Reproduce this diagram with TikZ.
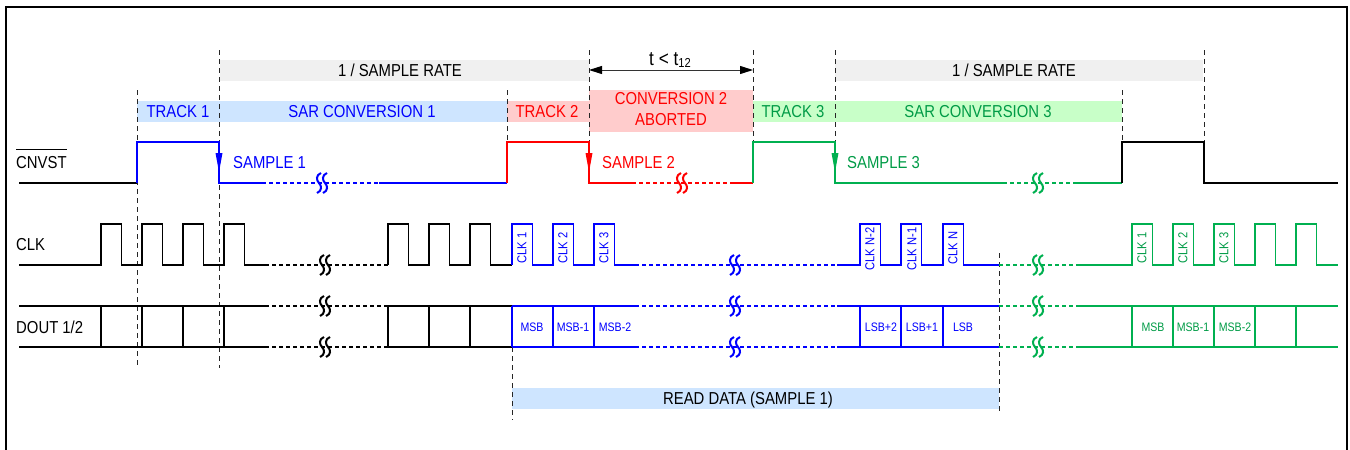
\documentclass[tikz,border=0pt]{standalone}
\usepackage{fontspec}
\setmainfont{Liberation Sans}[FakeStretch=0.86]
\usetikzlibrary{arrows.meta}
\definecolor{cblue}{RGB}{0,0,255}
\definecolor{cred}{RGB}{255,0,0}
\definecolor{cgreen}{RGB}{0,176,80}
\definecolor{tgreen}{RGB}{0,155,70}
\definecolor{fblue}{RGB}{206,229,255}
\definecolor{fred}{RGB}{255,204,204}
\definecolor{fgreen}{RGB}{200,255,200}
\definecolor{fgray}{RGB}{240,240,240}
\tikzset{
  brk/.pic={
    \draw[line width=2pt] (-1,-10) .. controls (-6,-8) and (-6,-3) .. (-3,0) .. controls (0,3) and (0,8) .. (-5,10);
    \draw[line width=2pt] (5,-10) .. controls (0,-8) and (0,-3) .. (3,0) .. controls (6,3) and (6,8) .. (1,10);
  }
}
\begin{document}
\begin{tikzpicture}[x=1pt,y=-1pt,
  sig/.style={line width=1.9pt, line join=miter},
  dsig/.style={line width=1.9pt, dash pattern=on 4pt off 3pt},
  guide/.style={black!85, line width=1pt, dash pattern=on 5pt off 4pt},
  big/.style={font=\fontsize{17.3}{21}\selectfont, inner sep=0pt},
  small/.style={font=\fontsize{12.3}{14}\selectfont, inner sep=0pt},
  lbl/.style={font=\fontsize{13}{14}\selectfont, inner sep=0pt, rotate=90}
]
\useasboundingbox (0,0) rectangle (1350,450);
% frame
\draw[line width=2pt] (6,452) -- (6,7) -- (1347,7) -- (1347,452);

% background bars
\fill[fgray] (220,60) rectangle (589,81);
\fill[fgray] (835,60) rectangle (1203,81);
\fill[fblue] (137,101) rectangle (507,122);
\fill[fred] (507,101) rectangle (589,122);
\fill[fred] (589,90) rectangle (753,132);
\fill[fgreen] (753,101) rectangle (1122,122);
\fill[fblue] (512,388) rectangle (999,409);

% bar texts
\node[big,anchor=base] (sr1) at (400,76) {1 / SAMPLE RATE};
\node[big,anchor=base] (sr2) at (1014,76) {1 / SAMPLE RATE};
\node[big,anchor=base,cblue] (tr1) at (178,117) {TRACK 1};
\node[big,anchor=base,cblue] (sc1) at (362,117) {SAR CONVERSION 1};
\node[big,anchor=base,cred] (tr2) at (547,117) {TRACK 2};
\node[big,align=center,cred] (ab2) at (671,109.5) {CONVERSION 2\\ABORTED};
\node[big,anchor=base,tgreen] (tr3) at (793,117) {TRACK 3};
\node[big,anchor=base,tgreen] (sc3) at (978,117) {SAR CONVERSION 3};
\node[big,anchor=base] (rd) at (748,404) {READ DATA (SAMPLE 1)};

% guide lines
\draw[guide] (137,90) -- (137,368);
\draw[guide] (219,50) -- (219,368);
\draw[guide] (507,90) -- (507,142);
\draw[guide] (512,347) -- (512,420);
\draw[guide] (589,50) -- (589,150);
\draw[guide] (753,50) -- (753,142);
\draw[guide] (835,50) -- (835,150);
\draw[guide] (1122,90) -- (1122,142);
\draw[guide] (1204,50) -- (1204,142);
\draw[guide] (999,253) -- (999,413);

% t < t12
\coordinate (ta) at (589,70);
\coordinate (tb) at (753,70);
\draw[black!80, line width=1pt, {Triangle[length=13pt,width=8pt,black]}-{Triangle[length=13pt,width=8pt,black]}] (ta) -- (tb);
\node[font=\fontsize{20}{22}\selectfont, inner sep=0pt, anchor=base] (tt) at (670,65) {t < t\raisebox{-2pt}{\fontsize{13}{13}\selectfont 12}};

% left labels
\node[big,anchor=base west] (cn) at (16,168) {CNVST};
\draw[line width=1pt] ([yshift=6pt]cn.north west) -- ([yshift=6pt]cn.north east);
\node[big,anchor=base west] (clk) at (16,250) {CLK};
\node[big,anchor=base west] (dout) at (16,333) {DOUT 1/2};

% ---------- CNVST ----------
\draw[sig] (19,183) -- (137,183);
\draw[sig,cblue] (137,183) -- (137,142) -- (219,142) -- (219,183) -- (262,183);
\draw[dsig,cblue] (262,183) -- (379,183);
\draw[sig,cblue] (379,183) -- (507,183);
\pic[cblue] at (322,183) {brk};
\fill[cblue] (215.5,153) -- (222.5,153) -- (219,172) -- cycle;
\node[big,anchor=base west,cblue] (s1) at (233,168) {SAMPLE 1};

\draw[sig,cred] (507,183) -- (507,142) -- (589,142) -- (589,183) -- (632,183);
\draw[dsig,cred] (632,183) -- (732,183);
\draw[sig,cred] (732,183) -- (753,183);
\pic[cred] at (682,183) {brk};
\fill[cred] (585.5,153) -- (592.5,153) -- (589,172) -- cycle;
\node[big,anchor=base west,cred] (s2) at (602,168) {SAMPLE 2};

\draw[sig,cgreen] (753,183) -- (753,142) -- (835,142) -- (835,183) -- (1003,183);
\draw[dsig,cgreen] (1003,183) -- (1077,183);
\draw[sig,cgreen] (1077,183) -- (1122,183);
\pic[cgreen] at (1038,183) {brk};
\fill[cgreen] (831.5,153) -- (838.5,153) -- (835,172) -- cycle;
\node[big,anchor=base west,tgreen] (s3) at (847,168) {SAMPLE 3};

\draw[sig] (1122,183) -- (1122,142) -- (1204,142) -- (1204,183) -- (1338,183);

% ---------- CLK ----------
\draw[sig] (19,265) foreach \x in {101,142,183,224}{ -- (\x,265) -- (\x,224) -- (\x+20.5,224) -- (\x+20.5,265)} -- (265,265);
\draw[dsig] (265,265) -- (388,265);
\pic at (325,265) {brk};
\draw[sig] (388,265) foreach \x in {388,429,470}{ -- (\x,265) -- (\x,224) -- (\x+20.5,224) -- (\x+20.5,265)} -- (512,265);
\draw[sig,cblue] (512,265) foreach \x in {512,553,594}{ -- (\x,265) -- (\x,224) -- (\x+20.5,224) -- (\x+20.5,265)} -- (635,265);
\draw[dsig,cblue] (635,265) -- (837,265);
\pic[cblue] at (735,265) {brk};
\draw[sig,cblue] (837,265) foreach \x in {860,901,943}{ -- (\x,265) -- (\x,224) -- (\x+20.5,224) -- (\x+20.5,265)} -- (999,265);
\draw[dsig,cgreen] (999,265) -- (1077,265);
\pic[cgreen] at (1038,265) {brk};
\draw[sig,cgreen] (1077,265) foreach \x in {1132,1173,1214,1255,1296}{ -- (\x,265) -- (\x,224) -- (\x+20.5,224) -- (\x+20.5,265)} -- (1338,265);

\node[lbl,cblue] (c1) at (522,248) {CLK 1};
\node[lbl,cblue] (c2) at (563,248) {CLK 2};
\node[lbl,cblue] (c3) at (604,248) {CLK 3};
\node[lbl,cblue] (cn2) at (870,249) {CLK N-2};
\node[lbl,cblue] (cn1) at (912,249) {CLK N-1};
\node[lbl,cblue] (cnn) at (953,248) {CLK N};
\node[lbl,tgreen] (g1) at (1142,248) {CLK 1};
\node[lbl,tgreen] (g2) at (1183,248) {CLK 2};
\node[lbl,tgreen] (g3) at (1224,248) {CLK 3};

% ---------- DOUT ----------
\draw[sig] (19,306) -- (265,306) (19,347) -- (265,347);
\foreach \x in {101,142,183,224} \draw[sig] (\x,306) -- (\x,347);
\draw[dsig] (265,306) -- (388,306) (265,347) -- (388,347);
\pic at (325,306) {brk};
\pic at (325,347) {brk};
\draw[sig] (388,306) -- (512,306) (388,347) -- (512,347);
\foreach \x in {388,429,470} \draw[sig] (\x,306) -- (\x,347);

\draw[sig,cblue] (512,306) -- (635,306) (512,347) -- (635,347);
\foreach \x in {512,553,594} \draw[sig,cblue] (\x,306) -- (\x,347);
\draw[dsig,cblue] (635,306) -- (837,306) (635,347) -- (837,347);
\pic[cblue] at (735,306) {brk};
\pic[cblue] at (735,347) {brk};
\draw[sig,cblue] (837,306) -- (999,306) (837,347) -- (999,347);
\foreach \x in {860,901,943} \draw[sig,cblue] (\x,306) -- (\x,347);

\draw[dsig,cgreen] (999,306) -- (1077,306) (999,347) -- (1077,347);
\pic[cgreen] at (1038,306) {brk};
\pic[cgreen] at (1038,347) {brk};
\draw[sig,cgreen] (1077,306) -- (1338,306) (1077,347) -- (1338,347);
\foreach \x in {1132,1173,1214,1255,1296} \draw[sig,cgreen] (\x,306) -- (\x,347);

\node[small,anchor=base,cblue] (d1) at (532,331) {MSB};
\node[small,anchor=base,cblue] (d2) at (573,331) {MSB-1};
\node[small,anchor=base,cblue] (d3) at (615,331) {MSB-2};
\node[small,anchor=base,cblue] (d4) at (881,331) {LSB+2};
\node[small,anchor=base,cblue] (d5) at (922,331) {LSB+1};
\node[small,anchor=base,cblue] (d6) at (963,331) {LSB};
\node[small,anchor=base,tgreen] (e1) at (1153,331) {MSB};
\node[small,anchor=base,tgreen] (e2) at (1193,331) {MSB-1};
\node[small,anchor=base,tgreen] (e3) at (1235,331) {MSB-2};
\end{tikzpicture}
\end{document}
